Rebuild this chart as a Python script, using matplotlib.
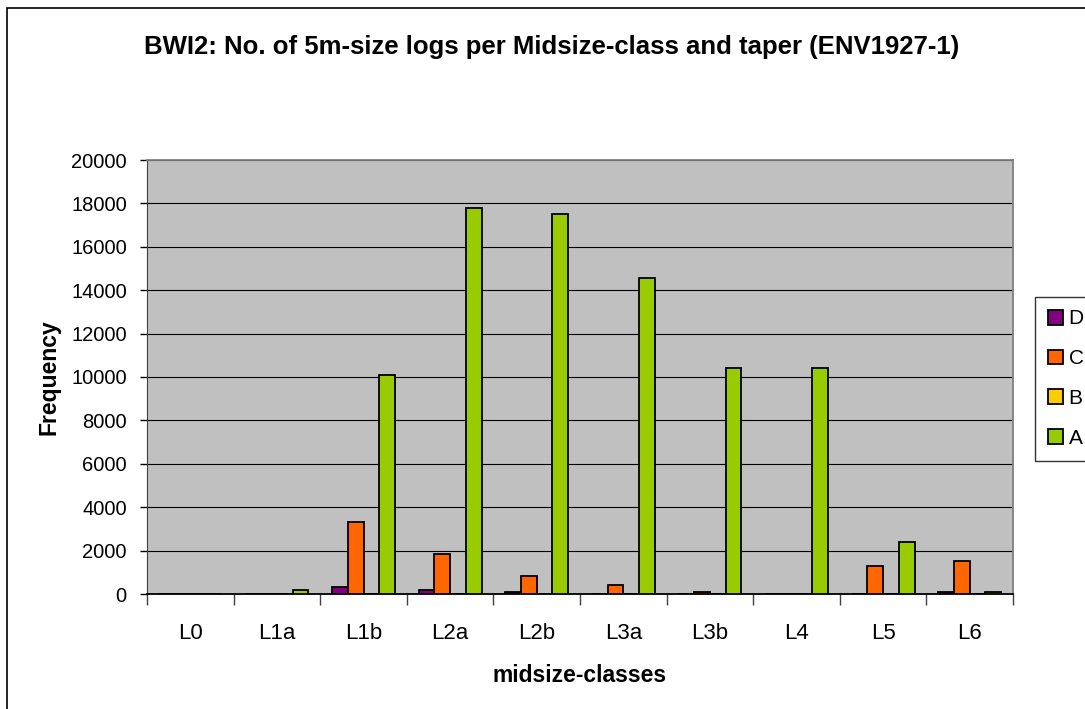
import numpy as np
import matplotlib
matplotlib.use("Agg")
import matplotlib.pyplot as plt
from matplotlib.patches import Rectangle

plt.rcParams['font.family'] = ['Liberation Sans', 'DejaVu Sans']

classes = ["L0", "L1a", "L1b", "L2a", "L2b", "L3a", "L3b", "L4", "L5", "L6"]
series_names = ["D", "C", "B", "A"]
d_vals = [0, 0, 300, 200, 80, 0, 0, 0, 0, 80]
c_vals = [0, 0, 3300, 1850, 850, 400, 80, 0, 1300, 1500]
b_vals = [0, 0, 0, 0, 0, 0, 0, 0, 0, 0]
a_vals = [0, 200, 10100, 17800, 17500, 14550, 10400, 10400, 2400, 80]
colors = ["#800080", "#FF6600", "#FFCC00", "#99CC00"]

W, H = 1085, 709
fig = plt.figure(figsize=(W / 100, H / 100), dpi=100)
ax = fig.add_axes([147 / W, 1 - 594 / H, (1013 - 147) / W, (594 - 160) / H])
ax.set_facecolor("#C0C0C0")

# outer chart border
fig.patches.append(Rectangle((7 / W, -0.01), 1.0, 1 - 8 / H + 0.01, transform=fig.transFigure,
                             fill=False, edgecolor="black", linewidth=1.2))

x = np.arange(len(classes))
bw = 1 / 5.5
for i, (vals, name, col) in enumerate(zip([d_vals, c_vals, b_vals, a_vals], series_names, colors)):
    ax.bar(x + (i - 1.5) * bw, vals, bw, color=col, edgecolor="black", linewidth=1.3,
           label=name, zorder=3)

ax.set_xlim(-0.5, len(classes) - 0.5)
ax.set_ylim(0, 20000)
ax.set_yticks(np.arange(0, 20001, 2000))
ax.yaxis.grid(True, color="black", linewidth=0.8, zorder=0)
ax.tick_params(axis="y", labelsize=14.5, length=5, width=1, direction="out", pad=9.5)

ax.set_xticks(x)
ax.set_xticklabels(classes)
ax.set_xticks(np.arange(-0.5, len(classes)), minor=True)
ax.tick_params(axis="x", which="major", length=0, labelsize=16, pad=21)
ax.tick_params(axis="x", which="minor", length=8, width=1, color="#404040")

for s in ["top", "right"]:
    ax.spines[s].set_color("#808080")
    ax.spines[s].set_linewidth(1.3)
ax.spines["left"].set_color("#404040")
ax.spines["bottom"].set_color("black")
ax.spines["bottom"].set_linewidth(1.3)

ax.set_xlabel("midsize-classes", fontsize=16.5, fontweight="bold", labelpad=14)
ax.set_ylabel("Frequency", fontsize=16.5, fontweight="bold", labelpad=8)
fig.text(552 / W, 1 - 47 / H, "BWI2: No. of 5m-size logs per Midsize-class and taper (ENV1927-1)",
         ha="center", va="center", fontsize=18.5, fontweight="bold")

leg = fig.legend(loc="upper left", bbox_to_anchor=(1035 / W, 1 - 297 / H), fontsize=15,
                 frameon=True, fancybox=False, edgecolor="black", handlelength=0.72,
                 handleheight=0.72, handletextpad=0.3, labelspacing=1.0, borderpad=0.6,
                 borderaxespad=0)
leg.get_frame().set_linewidth(1)

fig.savefig("out.png", dpi=100)
